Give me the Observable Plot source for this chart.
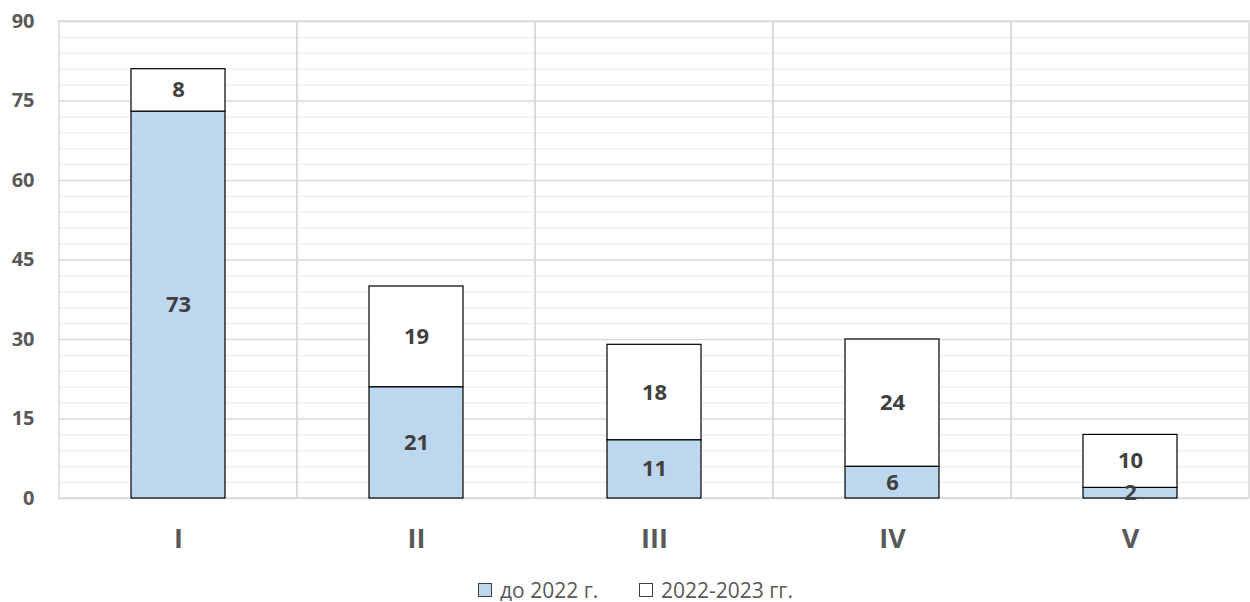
<!DOCTYPE html>
<html><head><meta charset="utf-8">
<script src="https://cdn.jsdelivr.net/npm/d3@7"></script>
<script src="https://cdn.jsdelivr.net/npm/@observablehq/plot@0.6"></script>
<style>
body{margin:0;background:#fff;font-family:"Open Sans",sans-serif;overflow:hidden}
#chart svg{display:block}
#legend{position:relative;height:22px;font-size:21px;line-height:22px;color:#595959;margin-top:19px}
#legend span{position:absolute;top:0;display:inline-flex;align-items:center;white-space:nowrap;line-height:22px}
#legend i{display:inline-block;width:12px;height:12px;border:1px solid #404040;margin-right:8px}
svg g[aria-label="y-axis tick label"] text{font-size:20px !important;font-weight:bold}
svg g[aria-label="x-axis tick label"] text{font-size:27px !important;font-weight:bold}
svg g[aria-label="text"] text{font-size:22px !important;font-weight:bold}
</style></head>
<body>
<div id="chart"></div>
<div id="legend"></div>
<script>
const categories = ["I","II","III","IV","V"];
const seriesNames = ["до 2022 г.","2022-2023 гг."];
const before2022 = [73,21,11,6,2];
const in2022_2023 = [8,19,18,24,10];
const yTicks = [0,15,30,45,60,75,90];
const colors = ["#bdd7ee","#ffffff"];

const rows = [];
categories.forEach((c,i)=>{
  let base = 0;
  [before2022[i], in2022_2023[i]].forEach((v,s)=>{
    rows.push({cat:c, series:seriesNames[s], value:v, y1:base, y2:base+v, mid:base+v/2});
    base += v;
  });
});

const chart = Plot.plot({
  width:1250, height:560,
  marginTop:21, marginBottom:62, marginLeft:58, marginRight:1,
  style:{fontFamily:"'Open Sans',sans-serif", background:"#fff", overflow:"visible"},
  x:{domain:categories, padding:0, axis:null},
  y:{domain:[0,90], axis:null},
  color:{domain:seriesNames, range:colors},
  marks:[
    Plot.ruleY(d3.range(0,91,3).filter(v=>v%15!==0), {y:d=>d, stroke:"#efefef", strokeWidth:1.5}),
    Plot.ruleY(yTicks, {y:d=>d, stroke:"#d9d9d9", strokeWidth:1.5}),
    Plot.barY(categories, {x:d=>d, y1:0, y2:90, fill:"none", stroke:"#d9d9d9", strokeWidth:1.5}),
    Plot.barY(rows, {x:"cat", y1:"y1", y2:"y2", fill:"series", stroke:"#000", strokeWidth:1.2, insetLeft:72, insetRight:72}),
    Plot.text(rows, {x:"cat", y:"mid", text:d=>String(d.value), fill:"#404040", fontSize:22, fontWeight:"bold"}),
    Plot.axisY({ticks:yTicks, tickSize:0, tickPadding:24, fontSize:20, fontWeight:"bold", color:"#595959", label:null}),
    Plot.axisX({tickSize:0, tickPadding:30, fontSize:27, fontWeight:"bold", color:"#595959", label:null})
  ]
});
document.getElementById("chart").appendChild(chart);
const lg = document.getElementById("legend");
const lefts = [478, 639];
seriesNames.forEach((n,i)=>{
  const s = document.createElement("span");
  s.style.left = lefts[i] + "px";
  s.innerHTML = `<i style="background:${colors[i]}"></i>${n}`;
  lg.appendChild(s);
});
</script>
</body></html>
